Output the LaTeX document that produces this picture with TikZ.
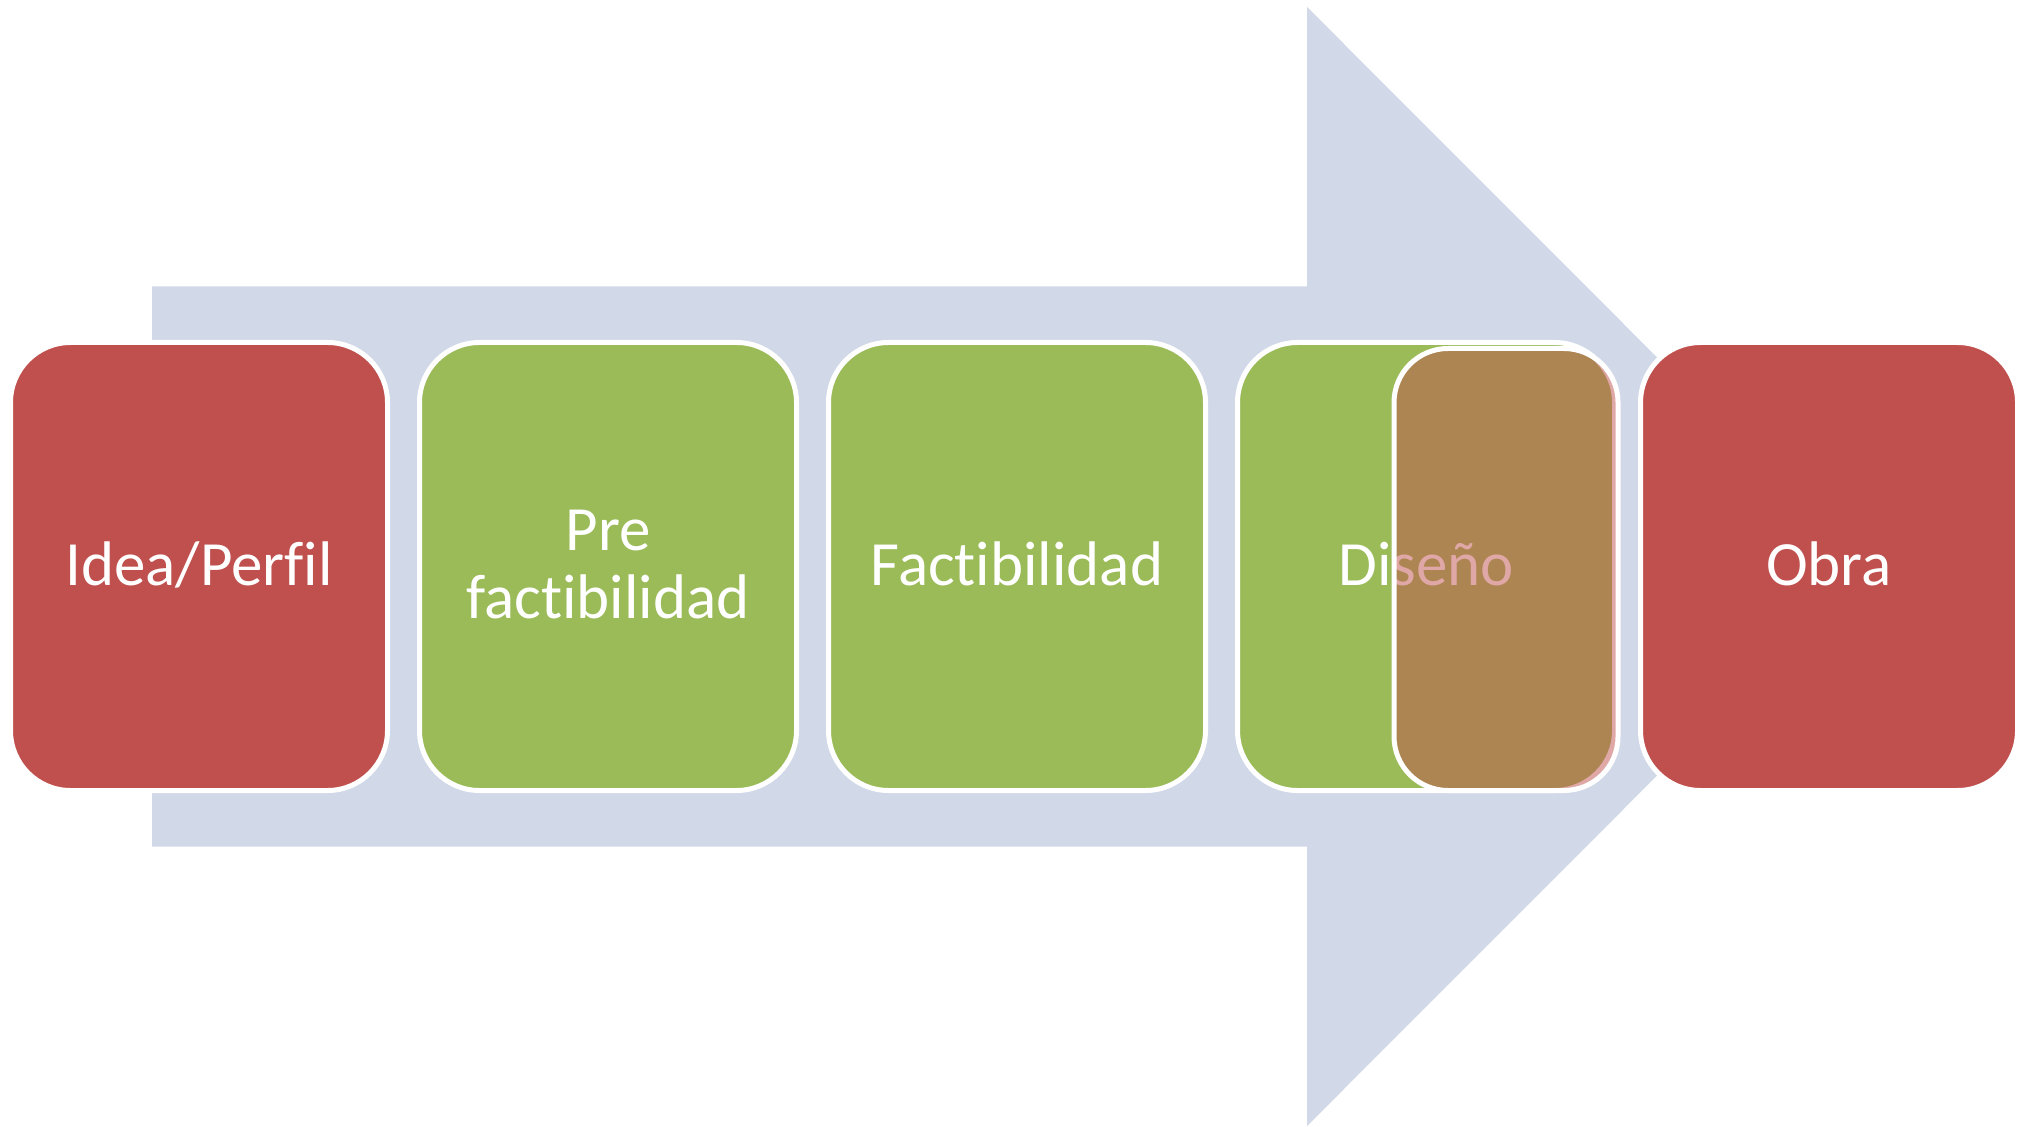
\documentclass[tikz,border=0pt]{standalone}
\usepackage{fontspec}
\setmainfont{Carlito}[Ligatures={NoCommon,NoRare,NoContextual}]
\usetikzlibrary{positioning}

\definecolor{stagered}{HTML}{C0504D}
\definecolor{stagegreen}{HTML}{9BBB59}
\definecolor{arrowblue}{HTML}{D1D8E8}

\tikzset{
  stagebox/.style={rectangle, rounded corners=30pt, draw=white, line width=2.5pt,
    minimum width=188.5pt, minimum height=224pt, outer sep=0pt, inner sep=0pt,
    text=white, font=\fontsize{31.5pt}{34pt}\selectfont, align=center},
  oneline/.style={text height=18.5pt, text depth=0pt},
  shadebox/.style={rectangle, rounded corners=27pt, draw=white, line width=2.5pt,
    fill=stagered, fill opacity=0.5, draw opacity=1,
    minimum width=112pt, minimum height=221pt, outer sep=0pt, inner sep=0pt},
}

\begin{document}
\begin{tikzpicture}[x=0.5pt, y=-0.5pt, node distance=16pt]
  \useasboundingbox (0,0) rectangle (2021,1127);

  % Big arrow behind the stages
  \fill[arrowblue] (152,286.5) -- (1307,286.5) -- (1307,7) -- (1866,566.5)
    -- (1307,1126) -- (1307,846.5) -- (152,846.5) -- cycle;

  % Define nodes
  \node[stagebox, oneline, fill=stagered] (idea) at (199,566.5) {Idea/Perfil};
  \node[stagebox, fill=stagegreen, text height=51.5pt, text depth=0pt,
    right=of idea] (prefact) {Pre\\factibilidad};
  \node[stagebox, oneline, fill=stagegreen, right=of prefact] (fact) {Factibilidad};
  \node[stagebox, oneline, fill=stagegreen, right=of fact] (diseno) {Diseño};
  \node[stagebox, oneline, fill=stagered, right=13pt of diseno] (obra) {Obra};

  % Red box sliding over Diseño
  \node[shadebox] (disenoshade) at ([xshift=40pt, yshift=-1.5pt]diseno.center) {};
\end{tikzpicture}
\end{document}
